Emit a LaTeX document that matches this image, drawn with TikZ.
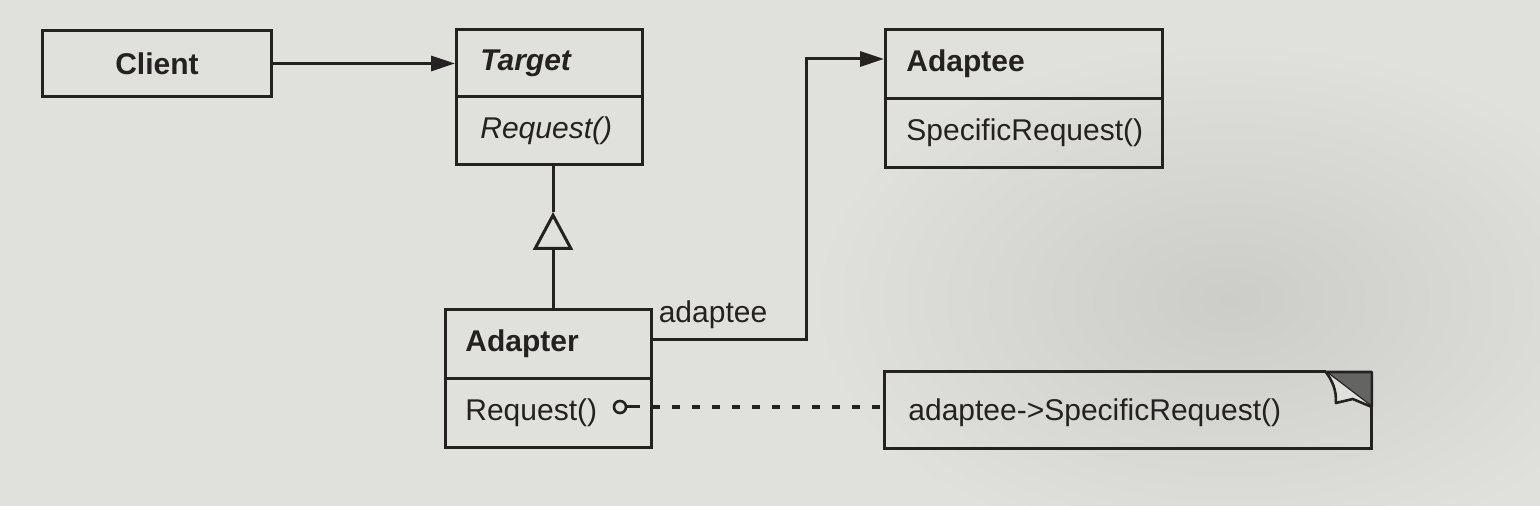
\documentclass[tikz,border=0pt]{standalone}
\usepackage{fontspec}
\setmainfont{Liberation Sans}
\usetikzlibrary{arrows.meta,calc}
\definecolor{paper}{RGB}{224,224,220}
\definecolor{shadow}{RGB}{204,204,201}
\definecolor{ink}{RGB}{36,34,32}
\definecolor{foldc}{RGB}{100,100,98}
\begin{document}
\begin{tikzpicture}[x=0.5pt,y=-0.5pt,
  comp/.style={draw=ink,line width=1.5pt,inner sep=0pt,anchor=north west},
  lbl/.style={text=ink,inner sep=0pt,font=\fontsize{15pt}{18pt}\selectfont},
  wire/.style={draw=ink,line width=1.5pt},
  assoc/.style={wire,-{Triangle[length=12pt,width=7.5pt]}},
  inh/.style={wire,-{Triangle[open,length=19pt,width=20pt]}},
  dashline/.style={draw=ink,line width=1.8pt,dash pattern=on 4pt off 6pt}]
\useasboundingbox (0,0) rectangle (1540,506);
\fill[paper] (0,0) rectangle (1540,506);
\shade[inner color=shadow,outer color=paper] (1230,300) ellipse (420 and 260);

% Client
\node[comp,minimum width=114.5pt,minimum height=33pt,
  font=\fontsize{15pt}{18pt}\selectfont\bfseries,text=ink] (client) at (41,29) {Client};

% Target
\node[comp,minimum width=93pt,minimum height=33.5pt] (tgtA) at (455,28) {};
\node[comp,minimum width=93pt,minimum height=34pt] (tgtB) at (455,95) {};
\node[lbl,anchor=west] (tgtname) at ([xshift=12.5pt]tgtA.west) {\textbf{\textit{Target}}};
\node[lbl,anchor=west] (tgtop) at ([xshift=12.5pt]tgtB.west) {\textit{Request()}};

% Adaptee
\node[comp,minimum width=138.5pt,minimum height=34.5pt] (ateeA) at (884,28) {};
\node[comp,minimum width=138.5pt,minimum height=34.5pt] (ateeB) at (884,97) {};
\node[lbl,anchor=west] (ateename) at ([xshift=11pt]ateeA.west) {\textbf{Adaptee}};
\node[lbl,anchor=west] (ateeop) at ([xshift=11pt]ateeB.west) {SpecificRequest()};

% Adapter
\node[comp,minimum width=103pt,minimum height=34.5pt] (adA) at (444,308) {};
\node[comp,minimum width=103pt,minimum height=34.5pt] (adB) at (444,377) {};
\node[lbl,anchor=west] (adname) at ([xshift=10.5pt]adA.west) {\textbf{Adapter}};
\node[lbl,anchor=west] (adop) at ([xshift=10.5pt]adB.west) {Request()};

% Note
\node[inner sep=0pt,minimum width=243.5pt,minimum height=38pt,anchor=north west] (note) at (884,372) {};
\coordinate (f1) at ($(note.north east)+(-46,0)$);
\coordinate (f2) at ($(note.north east)+(0,35)$);
\filldraw[fill=foldc,draw=ink,line width=1.3pt,line join=round] (f1) -- (note.north east) -- (f2) -- cycle;
\filldraw[fill=paper,draw=ink,line width=1.3pt,line join=round]
  (f1) .. controls ($(f1)+(6,8)$) and ($(f1)+(11,18)$) .. ($(f1)+(10,31)$)
  -- ($(f1)+(27,27)$) -- (f2);
\draw[wire,line join=miter] (f1) -- (note.north west) -- (note.south west) -- (note.south east) -- (f2);
\node[lbl,anchor=west] (notetxt) at ([xshift=12pt,yshift=-1pt]note.west) {adaptee->SpecificRequest()};

% Client -> Target
\draw[assoc] (client.east) -- (client.east -| tgtA.west);

% Inheritance Adapter -> Target
\coordinate (apex) at (553,212);
\draw[wire] (apex) -- (apex |- tgtB.south);
\draw[inh] (apex |- adA.north) -- (apex);

% Adapter -> Adaptee association
\coordinate (bend) at (806,59);
\draw[assoc] ([yshift=2.25pt]adA.east) -| (bend) -- (bend -| ateeA.west);
\node[lbl,anchor=base] (rolelbl) at (713,323) {adaptee};

% Implementation note link
\node[circle,draw=ink,line width=1.3pt,minimum size=6pt,inner sep=0pt] (dot) at (620,407) {};
\coordinate (stub) at (640,407);
\draw[wire] (dot.east) -- (stub);
\coordinate (dstart) at (652,407);
\draw[dashline] (dstart) -- (dstart -| note.west);
\end{tikzpicture}
\end{document}
